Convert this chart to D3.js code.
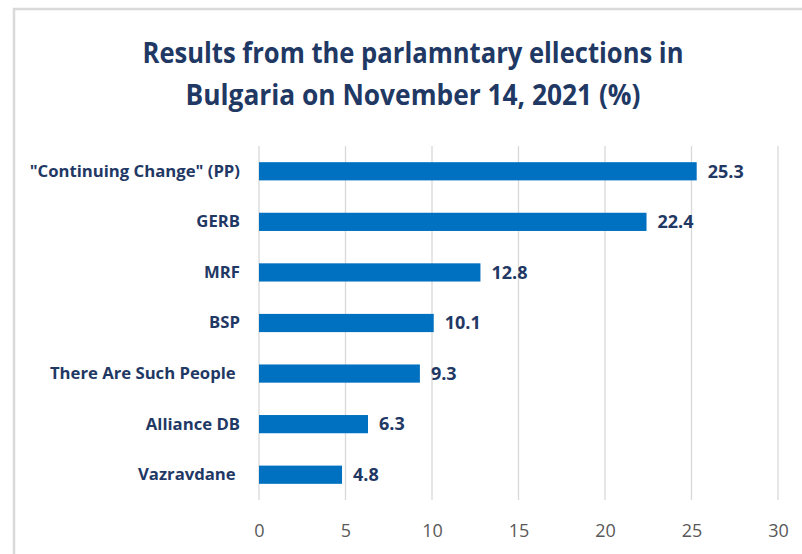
<!DOCTYPE html>
<html>
<head>
<meta charset="utf-8">
<script src="https://cdn.jsdelivr.net/npm/d3@7"></script>
<style>
  body { margin: 0; background: #fff; }
  text { font-family: "Open Sans", sans-serif; }
</style>
</head>
<body>
<div id="vis"></div>
<script>
const width = 802;
const height = 554;

// data
const parties = ['"Continuing Change" (PP)', 'GERB', 'MRF', 'BSP', 'There Are Such People ', 'Alliance DB', 'Vazravdane '];
const results = [25.3, 22.4, 12.8, 10.1, 9.3, 6.3, 4.8];
const xTicks = [0, 5, 10, 15, 20, 25, 30];
const titleLines = ['Results from the parlamntary ellections in', 'Bulgaria on November 14, 2021 (%)'];

const navy = "#1F3864";
const barColor = "#0070C0";

const svg = d3.select('#vis')
    .append('svg')
    .attr('width', width)
    .attr('height', height);

// chart frame
svg.append("path")
    .attr("d", `M14,${height} L14,9 L${width},9`)
    .attr("fill", "none")
    .attr("stroke", "#d9d9d9")
    .attr("stroke-width", 2.5);

// title - squeezed a bit since Calibri isn't around
const titleWidths = [541, 455];
svg.append("text")
    .attr("text-anchor", "middle")
    .attr("fill", navy)
    .style("font-size", "28px")
    .style("font-weight", "bold")
    .selectAll("tspan")
    .data(titleLines)
    .join("tspan")
    .attr("x", 413)
    .attr("y", (d, i) => 63 + i * 42)
    .attr("textLength", (d, i) => titleWidths[i])
    .attr("lengthAdjust", "spacingAndGlyphs")
    .text(d => d);

const margin = { top: 146, right: 24, bottom: 54, left: 259 };

const x = d3.scaleLinear()
    .domain([0, 30])
    .range([margin.left, 778]);

const y = d3.scaleBand()
    .domain(parties)
    .range([margin.top, height - margin.bottom])
    .paddingInner(0.64)
    .paddingOuter(0.32);

// vertical gridlines
svg.append("g")
    .selectAll("line")
    .data(xTicks)
    .join("line")
    .attr("x1", d => x(d))
    .attr("x2", d => x(d))
    .attr("y1", margin.top)
    .attr("y2", height - margin.bottom)
    .attr("stroke", "#d9d9d9")
    .attr("stroke-width", 1.3);

// x axis tick labels
const xAxis = svg.append("g")
    .attr("transform", `translate(0, ${height - margin.bottom})`)
    .call(d3.axisBottom(x).tickValues(xTicks).tickSize(0).tickPadding(24));
xAxis.select(".domain").remove();
xAxis.selectAll("text")
    .attr("fill", "#595959")
    .style("font-size", "18px")
    .style("font-family", "\"Open Sans\", sans-serif");

// bars
svg.append("g")
    .selectAll("rect")
    .data(parties)
    .join("rect")
    .attr("x", x(0))
    .attr("y", d => y(d))
    .attr("width", (d, i) => x(results[i]) - x(0))
    .attr("height", y.bandwidth())
    .attr("fill", barColor);

// category labels
const yAxis = svg.append("g")
    .attr("transform", `translate(${margin.left}, 0)`)
    .call(d3.axisLeft(y).tickSize(0).tickPadding(19));
yAxis.select(".domain").remove();
yAxis.selectAll("text")
    .attr("fill", navy)
    .style("white-space", "pre")
    .style("font-size", "16.7px")
    .style("font-weight", "bold")
    .style("font-family", "\"Open Sans\", sans-serif");

// value labels
svg.append("g")
    .selectAll("text")
    .data(parties)
    .join("text")
    .attr("x", (d, i) => x(results[i]) + 11)
    .attr("y", d => y(d) + y.bandwidth() / 2)
    .attr("dy", "0.35em")
    .attr("fill", navy)
    .style("font-size", "18px")
    .style("font-weight", "bold")
    .text((d, i) => results[i]);
</script>
</body>
</html>
